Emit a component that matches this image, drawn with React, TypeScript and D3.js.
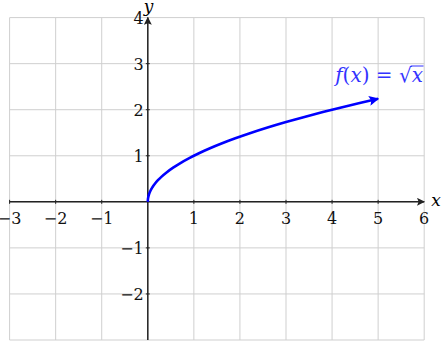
import * as d3 from 'd3';
import { useEffect, useRef } from 'react';

const xTicks = [-3, -2, -1, 1, 2, 3, 4, 5, 6];
const yTicks = [-2, -1, 1, 2, 3, 4];
const xDomain = [-3, 6];
const yDomain = [-3, 4];
const curveXs = [0, 0.002, 0.01, 0.03, 0.06, 0.1, 0.15, 0.22, 0.3, 0.4, 0.55, 0.7, 0.9, 1.1, 1.35, 1.6, 1.9, 2.2, 2.6, 3, 3.4, 3.8, 4.2, 4.6, 5];

export default function App() {
    const ref = useRef(null);

    useEffect(() => {
        const width = 441,
            height = 341;
        const svg = d3.select(ref.current);
        svg.selectAll('*').remove();
        svg.attr('width', width).attr('height', height);

        const x = d3.scaleLinear().domain(xDomain).range([9.6, 424.2]);
        const y = d3.scaleLinear().domain(yDomain).range([340, 17.6]);

        const defs = svg.append('defs');
        defs.append('marker')
            .attr('id', 'ax')
            .attr('viewBox', '0 0 10 10')
            .attr('refX', 9)
            .attr('refY', 5)
            .attr('markerWidth', 9)
            .attr('markerHeight', 8)
            .attr('markerUnits', 'userSpaceOnUse')
            .attr('orient', 'auto')
            .append('path')
            .attr('d', 'M0,0 L10,5 L0,10 L2,5 Z')
            .attr('fill', '#222');
        defs.append('marker')
            .attr('id', 'cv')
            .attr('viewBox', '0 0 10 10')
            .attr('refX', 9)
            .attr('refY', 5)
            .attr('markerWidth', 13)
            .attr('markerHeight', 10)
            .attr('markerUnits', 'userSpaceOnUse')
            .attr('orient', 'auto')
            .append('path')
            .attr('d', 'M0,0 L10,5 L0,10 L2,5 Z')
            .attr('fill', '#0000ff');

        const grid = svg.append('g').attr('stroke', '#cfcfcf').attr('stroke-width', 1);
        grid.selectAll('.gx')
            .data(d3.range(xDomain[0], xDomain[1] + 1))
            .join('line')
            .attr('x1', (d) => x(d))
            .attr('x2', (d) => x(d))
            .attr('y1', y(yDomain[0]))
            .attr('y2', y(yDomain[1]));
        grid.selectAll('.gy')
            .data(d3.range(yDomain[0], yDomain[1] + 1))
            .join('line')
            .attr('x1', x(xDomain[0]))
            .attr('x2', x(xDomain[1]))
            .attr('y1', (d) => y(d))
            .attr('y2', (d) => y(d));

        // axes
        svg.append('line')
            .attr('x1', x(xDomain[0]))
            .attr('x2', x(xDomain[1]))
            .attr('y1', y(0))
            .attr('y2', y(0))
            .attr('stroke', '#222')
            .attr('stroke-width', 1.5)
            .attr('marker-end', 'url(#ax)');
        svg.append('line')
            .attr('x1', x(0))
            .attr('x2', x(0))
            .attr('y1', y(yDomain[0]))
            .attr('y2', y(yDomain[1]))
            .attr('stroke', '#222')
            .attr('stroke-width', 1.5)
            .attr('marker-end', 'url(#ax)');

        // tick marks
        svg.append('g')
            .selectAll('line')
            .data(xTicks.filter((d) => d < 6))
            .join('line')
            .attr('x1', (d) => x(d))
            .attr('x2', (d) => x(d))
            .attr('y1', y(0) - 2)
            .attr('y2', y(0) + 2)
            .attr('stroke', '#222');
        svg.append('g')
            .selectAll('line')
            .data(yTicks.filter((d) => d < 4))
            .join('line')
            .attr('x1', x(0) - 2)
            .attr('x2', x(0) + 2)
            .attr('y1', (d) => y(d))
            .attr('y2', (d) => y(d))
            .attr('stroke', '#222');

        const font = '"DejaVu Serif", "Liberation Serif", serif';
        const fmt = (d: number) => (d < 0 ? '\u2212' + Math.abs(d) : String(d));
        svg.append('g')
            .selectAll('text')
            .data(xTicks)
            .join('text')
            .attr('x', (d) => x(d))
            .attr('y', y(0) + 22)
            .attr('text-anchor', 'middle')
            .style('font-family', font)
            .attr('font-size', 16)
            .attr('fill', '#111')
            .text(fmt);
        svg.append('g')
            .selectAll('text')
            .data(yTicks)
            .join('text')
            .attr('x', x(0) - 4)
            .attr('y', (d) => y(d) + 6)
            .attr('text-anchor', 'end')
            .style('font-family', font)
            .attr('font-size', 16)
            .attr('fill', '#111')
            .text(fmt);

        svg.append('text')
            .attr('x', x(xDomain[1]) + 7)
            .attr('y', y(0) + 4)
            .style('font-family', font)
            .attr('font-style', 'italic')
            .attr('font-size', 17)
            .text('x');
        svg.append('text')
            .attr('x', x(0) - 4)
            .attr('y', 12)
            .style('font-family', font)
            .attr('font-style', 'italic')
            .attr('font-size', 17)
            .text('y');

        // curve
        const line = d3
            .line<number>()
            .x((d) => x(d))
            .y((d) => y(Math.sqrt(d)))
            .curve(d3.curveMonotoneX);
        svg.append('path')
            .datum(curveXs)
            .attr('d', line)
            .attr('fill', 'none')
            .attr('stroke', '#0000ff')
            .attr('stroke-width', 2.6)
            .attr('marker-end', 'url(#cv)');

        // label f(x) = sqrt(x)
        const lbl = svg.append('text')
            .attr('x', 423)
            .attr('y', 82)
            .attr('text-anchor', 'end')
            .style('font-family', font)
            .attr('font-size', 20)
            .attr('fill', '#3333ff');
        lbl.append('tspan').attr('font-style', 'italic').text('f');
        lbl.append('tspan').text('(');
        lbl.append('tspan').attr('font-style', 'italic').text('x');
        lbl.append('tspan').text(') = \u221A');
        const last = lbl.append('tspan').attr('font-style', 'italic').text('x');
        const bb = (last.node() as SVGGraphicsElement).getBBox();
        svg.append('line')
            .attr('x1', bb.x - 1)
            .attr('x2', bb.x + bb.width + 0.5)
            .attr('y1', bb.y + 3)
            .attr('y2', bb.y + 3)
            .attr('stroke', '#3333ff')
            .attr('stroke-width', 1);
    }, []);

    return <svg ref={ref} style={{ position: 'absolute', left: 0, top: 0 }} />;
}
